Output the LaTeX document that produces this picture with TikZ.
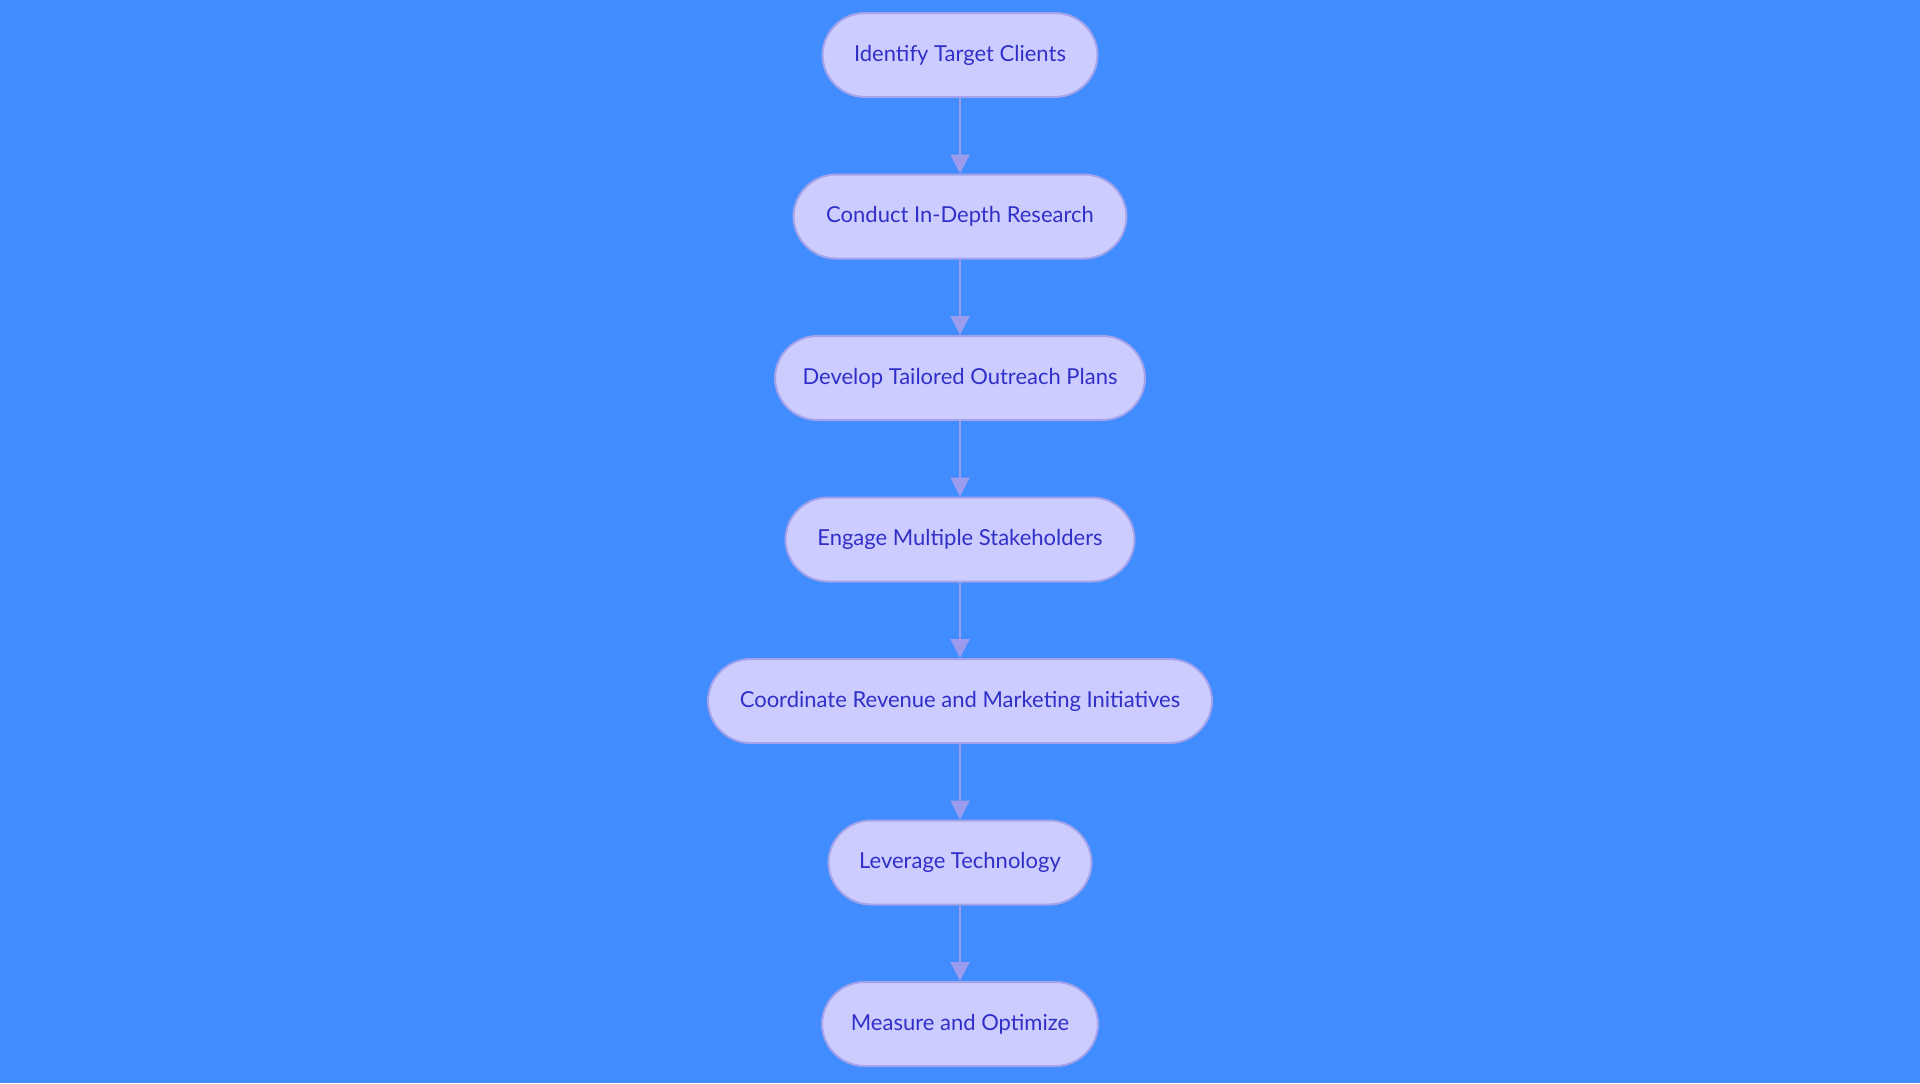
\documentclass[tikz,border=0pt]{standalone}
\usepackage{fontspec}
\setmainfont{Lato}
\usetikzlibrary{arrows.meta}
\definecolor{bg}{HTML}{418CFF}
\definecolor{nodefill}{HTML}{CCCCFF}
\definecolor{nodeborder}{HTML}{A3A3EB}
\definecolor{txt}{HTML}{3030C8}
\definecolor{arrowc}{HTML}{9C9CEE}
\tikzset{
  stepbox/.style={draw=nodeborder, line width=1pt, fill=nodefill, rounded corners=21.25pt,
    minimum height=42pt, inner xsep=8pt, text=txt, font=\fontsize{11}{13}\selectfont},
  flow/.style={draw=arrowc, line width=1pt, -{Triangle[width=9.5pt,length=9.5pt]}}
}
\begin{document}
\begin{tikzpicture}[x=0.5pt,y=-0.5pt]
\fill[bg] (0,0) rectangle (1920,1083);
\useasboundingbox (0,0) rectangle (1920,1083);
\node[stepbox, minimum width=137.5pt] (n1) at (960,55) {Identify Target Clients};
\node[stepbox, minimum width=166.5pt] (n2) at (960,216.5) {Conduct In-Depth Research};
\node[stepbox, minimum width=185pt] (n3) at (960,378) {Develop Tailored Outreach Plans};
\node[stepbox, minimum width=174.5pt] (n4) at (960,539.5) {Engage Multiple Stakeholders};
\node[stepbox, minimum width=252pt] (n5) at (960,701) {Coordinate Revenue and Marketing Initiatives};
\node[stepbox, minimum width=131.5pt] (n6) at (960,862.5) {Leverage Technology};
\node[stepbox, minimum width=138pt] (n7) at (960,1024) {Measure and Optimize};
\draw[flow] (n1) -- (n2);
\draw[flow] (n2) -- (n3);
\draw[flow] (n3) -- (n4);
\draw[flow] (n4) -- (n5);
\draw[flow] (n5) -- (n6);
\draw[flow] (n6) -- (n7);
\end{tikzpicture}
\end{document}
